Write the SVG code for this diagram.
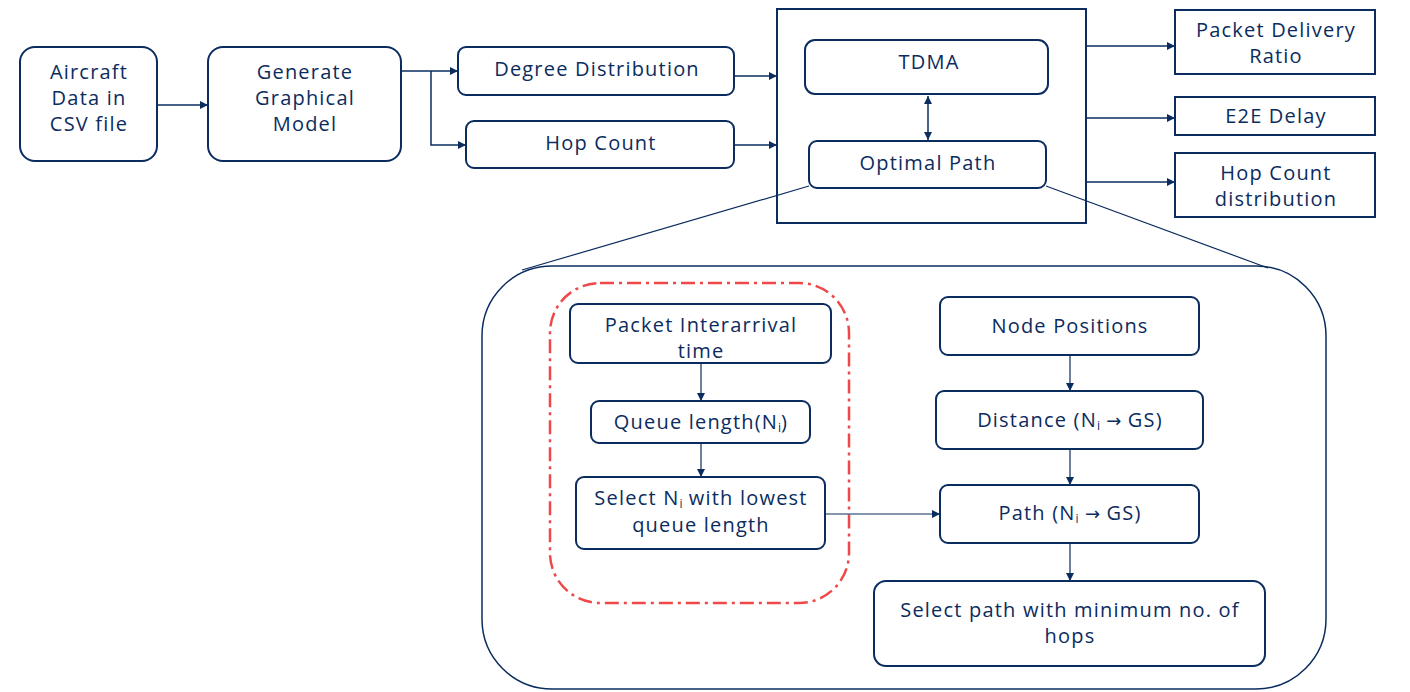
<svg xmlns="http://www.w3.org/2000/svg" width="1410" height="692" viewBox="0 0 1410 692">
<style>
.n{fill:#fff;stroke:#0b2c5e;stroke-width:2}
.t{font-family:"Open Sans","Liberation Sans",sans-serif;font-size:20px;letter-spacing:1.2px;fill:#0b2c5e;text-anchor:middle}
.c{fill:none;stroke:#0b2c5e;stroke-width:1.5}
.thin{fill:none;stroke:#0b2c5e;stroke-width:1.2}
.s{font-size:12px;letter-spacing:0}
.ar{font-family:"DejaVu Sans",sans-serif;font-size:18px;letter-spacing:0}
</style>
<defs>
<marker id="a" viewBox="0 0 10 10" refX="10" refY="5" markerWidth="8" markerHeight="8" markerUnits="userSpaceOnUse" orient="auto">
<path d="M0,0 L10,5 L0,10 z" fill="#0b2c5e"/>
</marker>
<marker id="as" viewBox="0 0 10 10" refX="10" refY="5" markerWidth="8" markerHeight="8" markerUnits="userSpaceOnUse" orient="auto-start-reverse">
<path d="M0,0 L10,5 L0,10 z" fill="#0b2c5e"/>
</marker>
</defs>
<rect width="1410" height="692" fill="#fff"/>

<g id="container">
<rect x="482" y="266" width="844" height="423" rx="70" ry="70" fill="#fff" stroke="#0b2c5e" stroke-width="1.5"/>
</g>
<g id="queue-group">
<rect x="550" y="283" width="299" height="320" rx="50" ry="50" fill="none" stroke="#f04848" stroke-width="2.5" stroke-dasharray="14 5 3 5"/>
</g>

<g id="aircraft"><rect class="n" x="20" y="47" width="137" height="114" rx="15"/>
<text class="t" x="89" y="79">Aircraft</text><text class="t" x="89" y="105">Data in</text><text class="t" x="89" y="131">CSV file</text></g>
<g id="generate"><rect class="n" x="208" y="47" width="193" height="114" rx="15"/>
<text class="t" x="305" y="79">Generate</text><text class="t" x="305" y="105">Graphical</text><text class="t" x="305" y="131">Model</text></g>
<g id="degree"><rect class="n" x="458" y="47" width="276" height="48" rx="8"/>
<text class="t" x="597" y="76">Degree Distribution</text></g>
<g id="hopcount"><rect class="n" x="466" y="121" width="268" height="47" rx="8"/>
<text class="t" x="601" y="150">Hop Count</text></g>
<g id="mainbox"><rect x="777" y="9" width="309" height="214" fill="#fff" stroke="#0b2c5e" stroke-width="2"/></g>
<g id="tdma"><rect class="n" x="805" y="40" width="243" height="54" rx="10"/>
<text class="t" x="929" y="69">TDMA</text></g>
<g id="optimal"><rect class="n" x="809" y="141" width="237" height="47" rx="8"/>
<text class="t" x="928" y="170">Optimal Path</text></g>
<g id="pdr"><rect class="n" x="1175" y="10" width="200" height="64"/>
<text class="t" x="1276" y="37">Packet Delivery</text><text class="t" x="1276" y="63">Ratio</text></g>
<g id="e2e"><rect class="n" x="1175" y="97" width="200" height="38"/>
<text class="t" x="1276" y="123">E2E Delay</text></g>
<g id="hopdist"><rect class="n" x="1175" y="153" width="200" height="64"/>
<text class="t" x="1276" y="180">Hop Count</text><text class="t" x="1276" y="206">distribution</text></g>

<g id="interarrival"><rect class="n" x="570" y="304" width="261" height="59" rx="8" stroke-width="1.5"/>
<text class="t" x="701" y="332">Packet Interarrival</text><text class="t" x="701" y="358">time</text></g>
<g id="queuelen"><rect class="n" x="591" y="401" width="219" height="42" rx="8" stroke-width="1.5"/>
<text class="t" x="701" y="429">Queue length(N<tspan class="s" baseline-shift="-3">i</tspan>)</text></g>
<g id="selectni"><rect class="n" x="576" y="477" width="249" height="72" rx="8" stroke-width="1.5"/>
<text class="t" x="701" y="505">Select N<tspan class="s" baseline-shift="-3">i</tspan> with lowest</text><text class="t" x="701" y="532">queue length</text></g>
<g id="nodepos"><rect class="n" x="940" y="297" width="259" height="58" rx="8" stroke-width="1.5"/>
<text class="t" x="1070" y="333">Node Positions</text></g>
<g id="distance"><rect class="n" x="936" y="391" width="267" height="58" rx="8" stroke-width="1.5"/>
<text class="t" x="1070" y="427">Distance (N<tspan class="s" baseline-shift="-3">i</tspan> <tspan class="ar">→</tspan> GS)</text></g>
<g id="path"><rect class="n" x="940" y="485" width="259" height="58" rx="8" stroke-width="1.5"/>
<text class="t" x="1070" y="520">Path (N<tspan class="s" baseline-shift="-3">i</tspan> <tspan class="ar">→</tspan> GS)</text></g>
<g id="selectpath"><rect class="n" x="874" y="581" width="391" height="85" rx="12" stroke-width="1.5"/>
<text class="t" x="1070" y="617">Select path with minimum no. of</text><text class="t" x="1070" y="643">hops</text></g>

<g id="zoom-lines">
<line class="thin" x1="809" y1="186" x2="522" y2="270"/>
<line class="thin" x1="1046" y1="186" x2="1268" y2="268"/>
</g>

<g id="connectors">
<line class="c" x1="157" y1="105" x2="208" y2="105" marker-end="url(#a)"/>
<line class="c" x1="401" y1="71" x2="458" y2="71" marker-end="url(#a)"/>
<polyline class="c" points="431,71 431,145 466,145" marker-end="url(#a)"/>
<line class="c" x1="734" y1="76" x2="777" y2="76" marker-end="url(#a)"/>
<line class="c" x1="734" y1="145" x2="777" y2="145" marker-end="url(#a)"/>
<line class="c" x1="928" y1="96" x2="928" y2="140" marker-start="url(#as)" marker-end="url(#a)"/>
<line class="c" x1="1086" y1="46" x2="1175" y2="46" stroke-width="2" marker-end="url(#a)"/>
<line class="c" x1="1086" y1="118" x2="1175" y2="118" stroke-width="2" marker-end="url(#a)"/>
<line class="c" x1="1086" y1="182" x2="1175" y2="182" stroke-width="2" marker-end="url(#a)"/>
<line class="thin" x1="701" y1="363" x2="701" y2="401" marker-end="url(#a)"/>
<line class="thin" x1="701" y1="443" x2="701" y2="477" marker-end="url(#a)"/>
<line class="thin" x1="825" y1="514" x2="940" y2="514" marker-end="url(#a)"/>
<line class="thin" x1="1070" y1="355" x2="1070" y2="391" marker-end="url(#a)"/>
<line class="thin" x1="1070" y1="449" x2="1070" y2="485" marker-end="url(#a)"/>
<line class="thin" x1="1070" y1="543" x2="1070" y2="581" marker-end="url(#a)"/>
</g>
</svg>
